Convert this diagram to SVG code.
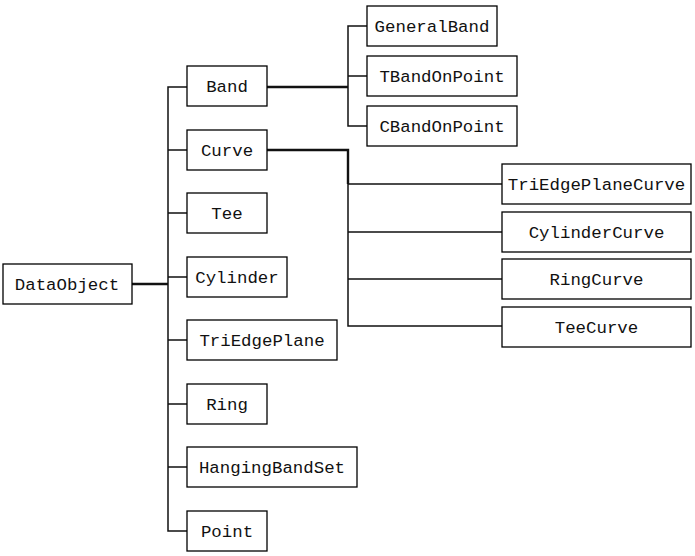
<svg xmlns="http://www.w3.org/2000/svg" width="695" height="556" viewBox="0 0 695 556">
<style>
.box{fill:#fff;stroke:#000;stroke-width:1.3}
.t{font-family:"Liberation Mono","DejaVu Sans Mono",monospace;font-size:17.4px;fill:#111;text-anchor:middle}
.c{fill:none;stroke:#111;stroke-width:1.5}
.ct{fill:none;stroke:#111;stroke-width:2.4}
</style>
<rect width="695" height="556" fill="#fff"/>
<g id="connectors">
<path class="ct" d="M132 284H168"/>
<path class="c" d="M187 87H168V531H187M168 150H187M168 213H187M168 277H187M168 340H187M168 404H187M168 467H187"/>
<path class="ct" d="M267 87H348"/>
<path class="c" d="M367 26H348V126H367M348 76H367"/>
<path class="ct" d="M267 150H348V184"/>
<path class="c" d="M348 184V326H502M348 184H502M348 232H502M348 279H502"/>
</g>
<g id="DataObject"><rect class="box" x="3" y="264" width="129" height="40"/><text class="t" x="67" y="290">DataObject</text></g>
<g id="Band"><rect class="box" x="187" y="66" width="80" height="40"/><text class="t" x="227" y="92">Band</text></g>
<g id="Curve"><rect class="box" x="187" y="130" width="80" height="40"/><text class="t" x="227" y="156">Curve</text></g>
<g id="Tee"><rect class="box" x="187" y="193" width="80" height="40"/><text class="t" x="227" y="219">Tee</text></g>
<g id="Cylinder"><rect class="box" x="187" y="257" width="100" height="40"/><text class="t" x="237" y="283">Cylinder</text></g>
<g id="TriEdgePlane"><rect class="box" x="187" y="320" width="150" height="40"/><text class="t" x="262" y="346">TriEdgePlane</text></g>
<g id="Ring"><rect class="box" x="187" y="384" width="80" height="40"/><text class="t" x="227" y="410">Ring</text></g>
<g id="HangingBandSet"><rect class="box" x="187" y="447" width="170" height="40"/><text class="t" x="272" y="473">HangingBandSet</text></g>
<g id="Point"><rect class="box" x="187" y="511" width="80" height="40"/><text class="t" x="227" y="537">Point</text></g>
<g id="GeneralBand"><rect class="box" x="367" y="6" width="130" height="40"/><text class="t" x="432" y="32">GeneralBand</text></g>
<g id="TBandOnPoint"><rect class="box" x="367" y="56" width="150" height="40"/><text class="t" x="442" y="82">TBandOnPoint</text></g>
<g id="CBandOnPoint"><rect class="box" x="367" y="106" width="150" height="40"/><text class="t" x="442" y="132">CBandOnPoint</text></g>
<g id="TriEdgePlaneCurve"><rect class="box" x="502" y="164" width="189" height="40"/><text class="t" x="596.5" y="190">TriEdgePlaneCurve</text></g>
<g id="CylinderCurve"><rect class="box" x="502" y="212" width="189" height="40"/><text class="t" x="596.5" y="238">CylinderCurve</text></g>
<g id="RingCurve"><rect class="box" x="502" y="259" width="189" height="40"/><text class="t" x="596.5" y="285">RingCurve</text></g>
<g id="TeeCurve"><rect class="box" x="502" y="307" width="189" height="40"/><text class="t" x="596.5" y="333">TeeCurve</text></g>
</svg>
